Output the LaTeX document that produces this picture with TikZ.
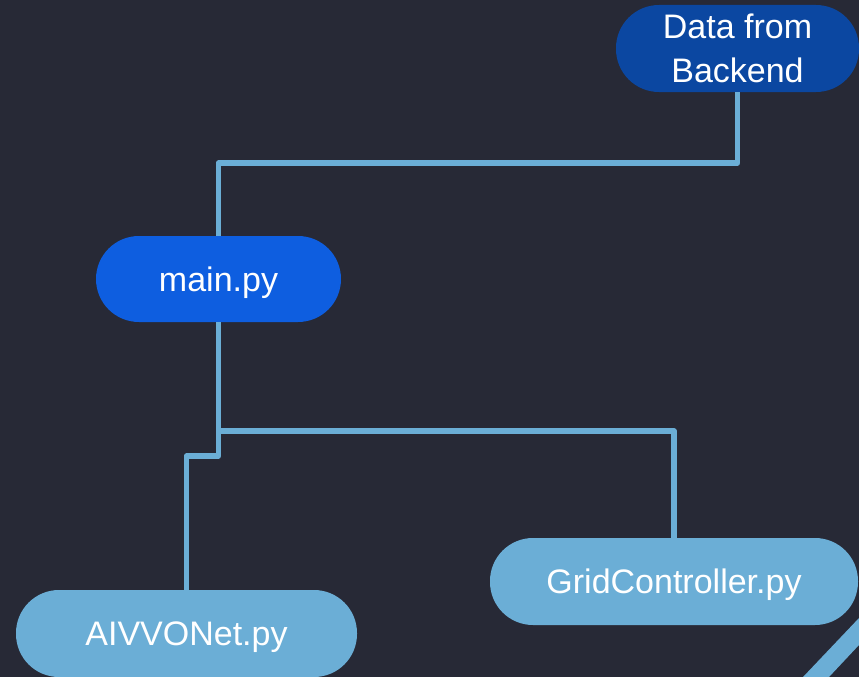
\documentclass[tikz,border=0pt]{standalone}
\usepackage{fontspec}
\setmainfont{Liberation Sans}
\definecolor{bgc}{RGB}{39,41,54}
\definecolor{darkb}{RGB}{11,71,161}
\definecolor{midb}{RGB}{14,94,224}
\definecolor{lightb}{RGB}{107,174,214}
\tikzset{
  pill/.style={rounded corners=43pt, inner sep=0pt, text=white, align=center,
    font=\fontsize{34}{43.5}\selectfont, minimum height=87pt},
  oneline/.style={text height=24pt, text depth=0pt},
  conn/.style={draw=lightb, line width=5.5pt, line join=round}
}
\begin{document}
\begin{tikzpicture}[x=1pt,y=-1pt]
\useasboundingbox (0,0) rectangle (859,677);
\fill[bgc] (0,0) rectangle (859,677);
\begin{scope}
\clip (0,0) rectangle (859,677);
\fill[lightb] (803,677) -- (829,677) -- (859,645) -- (859,618) -- cycle;
\node[pill, fill=darkb, minimum width=243pt] (data) at (737.5,48.5) {Data from\\Backend};
\node[pill, oneline, fill=midb, minimum width=245pt, minimum height=86pt] (main) at (218.5,279) {main.py};
\node[pill, oneline, fill=lightb, minimum width=368pt] (grid) at (674,581.5) {GridController.py};
\node[pill, oneline, fill=lightb, minimum width=341pt] (aivvo) at (186.5,633.5) {AIVVONet.py};
\coordinate (j1) at (218.5,431);
\coordinate (j2) at (218.5,456);
\draw[conn] (data.south) -- (data.south |- 0,163) -| (main.north);
\draw[conn] (main.south) -- (j1) -| (grid.north);
\draw[conn] (j1) -- (j2) -| (aivvo.north);
\end{scope}
\end{tikzpicture}
\end{document}
